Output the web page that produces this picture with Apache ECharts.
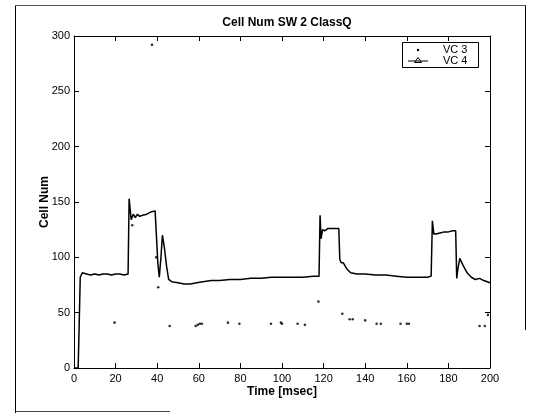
<!DOCTYPE html>
<html><head><meta charset="utf-8">
<script src="https://cdn.jsdelivr.net/npm/echarts@6/dist/echarts.min.js"></script>
<style>html,body{margin:0;padding:0;background:#fff}#c{width:538px;height:413px}</style>
</head><body><div id="c"></div>
<script>
// VC 4 (line with triangles)
const vc4Time = [0,2,2.5,3,4,6,8,10,12,14,16,18,20,22,24,26,26.5,27.5,28.5,29.5,30.5,31.5,33,35,37,39,39.8,40.3,41,41.8,42.5,43.5,44.5,45.5,47,50,53,56,59,62,66,70,75,80,85,90,95,100,105,110,115,117.8,118.3,118.8,119.5,120.5,122,124,126,127.3,127.8,128.5,129.5,131,133,136,140,145,150,155,160,165,170,171.7,172.3,173,174,176,178,180,182,183.5,184,184.6,185.5,187,189,191,193,195,197,200];
const vc4Value = [0,0,40,82,86,85,84,85,84,85,85,84,85,85,84,85,153,134,139,136,139,137,138,139,141,142,143,95,82,100,120,108,92,80,78,77,76,76,77,78,79,79,80,80,81,81,82,82,82,82,83,83,138,117,125,124,126,126,126,126,98,95,95,90,86,85,85,84,84,83,82,82,82,83,133,121,121,122,123,123,124,124,81,90,99,93,86,82,80,81,79,77,77,77];
// VC 3 (dots)
const vc3Time = [19.5,28,37.5,39.5,40.5,46,58.5,59.5,60.5,61.5,74,79.5,94.7,99.5,100,107.5,111,117.5,129,132.5,134,140,145.5,147.5,157,160,161,195,197.5,199];
const vc3Value = [41,129,292,100,73,38,38,39,40,40,41,40,40,41,40,40,39,60,49,44,44,43,40,40,40,40,40,38,38,48];
const seriesNames = ['VC 3', 'VC 4'];
const titleText = 'Cell Num SW 2 ClassQ';
const xName = 'Time [msec]';
const yName = 'Cell Num';

const F = 'Liberation Sans, Arial, sans-serif';
const chart = echarts.init(document.getElementById('c'));
const axisCommon = {
  type: 'value', min: 0,
  axisLine: {show: true, onZero: false, lineStyle: {color: '#000', width: 1}},
  axisTick: {show: true, inside: true, length: 5, lineStyle: {color: '#000'}},
  splitLine: {show: false}
};
const legText = {fontFamily: F, fontSize: 11, fill: '#000', textVerticalAlign: 'middle'};
chart.setOption({
  animation: false,
  backgroundColor: '#fff',
  title: {text: titleText, left: 282, top: 12, textAlign: 'center',
    textStyle: {fontFamily: F, fontSize: 12, fontWeight: 'bold', color: '#000'}},
  grid: {left: 74, right: 48, top: 36, bottom: 45},
  xAxis: [
    Object.assign({}, axisCommon, {max: 200, interval: 20, position: 'bottom',
      name: xName, nameLocation: 'middle', nameGap: 18, nameMoveOverlap: false,
      nameTextStyle: {fontFamily: F, fontSize: 12, fontWeight: 'bold', color: '#000'},
      axisLabel: {fontFamily: F, fontSize: 11, color: '#000', margin: 5}}),
    Object.assign({}, axisCommon, {max: 200, interval: 20, position: 'top', axisLabel: {show: false}})
  ],
  yAxis: [
    Object.assign({}, axisCommon, {max: 300, interval: 50, position: 'left',
      name: yName, nameLocation: 'middle', nameGap: 23, nameRotate: 90, nameMoveOverlap: false,
      nameTextStyle: {fontFamily: F, fontSize: 12, fontWeight: 'bold', color: '#000'},
      axisLabel: {fontFamily: F, fontSize: 11, color: '#000', margin: 4}}),
    Object.assign({}, axisCommon, {max: 300, interval: 50, position: 'right', axisLabel: {show: false}})
  ],
  graphic: [
    {type: 'line', shape: {x1: 15.5, y1: 5.5, x2: 15.5, y2: 413}, style: {stroke: '#000', lineWidth: 1}},
    {type: 'line', shape: {x1: 15.5, y1: 5.5, x2: 525.5, y2: 5.5}, style: {stroke: '#555', lineWidth: 1}},
    {type: 'line', shape: {x1: 525.5, y1: 5.5, x2: 525.5, y2: 330}, style: {stroke: '#000', lineWidth: 1}},
    {type: 'line', shape: {x1: 15.5, y1: 411.5, x2: 170, y2: 411.5}, style: {stroke: '#444', lineWidth: 1}},
    // legend
    {type: 'rect', shape: {x: 402.5, y: 42.5, width: 76, height: 25}, style: {fill: '#fff', stroke: '#000', lineWidth: 1}, z: 100},
    {type: 'circle', shape: {cx: 418, cy: 50, r: 1.2}, style: {fill: '#000'}, z: 101},
    {type: 'text', x: 443, y: 50, style: Object.assign({text: seriesNames[0]}, legText), z: 101},
    {type: 'line', shape: {x1: 408, y1: 61, x2: 428, y2: 61}, style: {stroke: '#000', lineWidth: 1}, z: 101},
    {type: 'polygon', shape: {points: [[418, 57.5], [414.5, 62.5], [421.5, 62.5]]}, style: {fill: 'none', stroke: '#000', lineWidth: 1}, z: 101},
    {type: 'text', x: 443, y: 61, style: Object.assign({text: seriesNames[1]}, legText), z: 101}
  ],
  series: [
    {name: seriesNames[0], type: 'scatter', symbol: 'circle', symbolSize: 2.6,
      itemStyle: {color: '#000'},
      data: vc3Time.map((t, i) => [t, vc3Value[i]])},
    {name: seriesNames[1], type: 'line', symbol: 'emptyTriangle', symbolSize: 6, showSymbol: false,
      lineStyle: {color: '#000', width: 1.5}, itemStyle: {color: '#000'},
      data: vc4Time.map((t, i) => [t, vc4Value[i]])}
  ]
});
</script></body></html>
